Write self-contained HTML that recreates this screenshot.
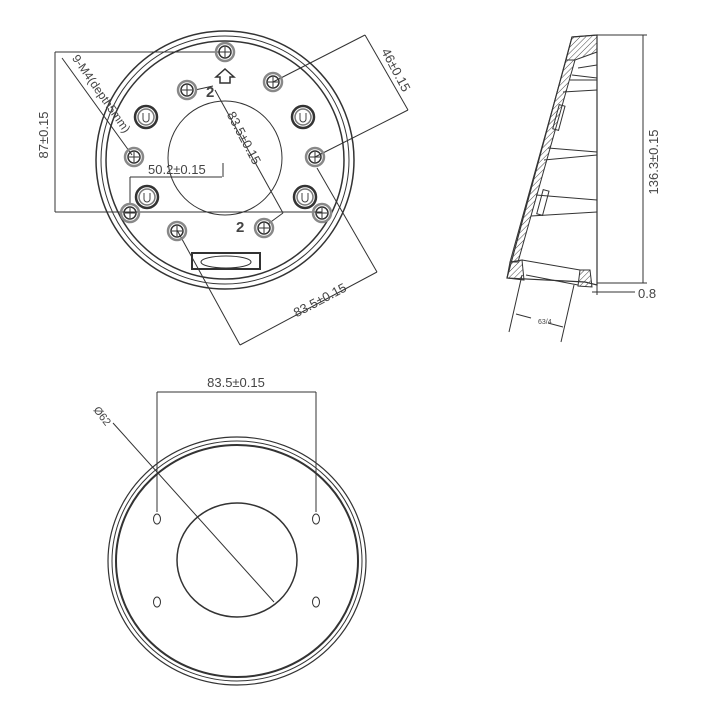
<!DOCTYPE html>
<html><head><style>html,body{margin:0;padding:0;background:#fff}svg{display:block}</style></head><body>
<svg width="704" height="704" viewBox="0 0 704 704" xmlns="http://www.w3.org/2000/svg" font-family="Liberation Sans, sans-serif">
<defs>
<pattern id="h" width="4" height="4" patternUnits="userSpaceOnUse" patternTransform="rotate(45)"><line x1="0" y1="0" x2="0" y2="4" stroke="#444" stroke-width="1"/></pattern>
<g id="sh"><circle r="9" fill="none" stroke="#888" stroke-width="2.5"/><circle r="6" fill="none" stroke="#333" stroke-width="1.5"/><line x1="-5" y1="0" x2="5" y2="0" stroke="#333"/><line x1="0" y1="-5" x2="0" y2="5" stroke="#333"/></g>
<g id="bs"><circle r="11" fill="none" stroke="#333" stroke-width="2.5"/><circle r="8" fill="none" stroke="#777" stroke-width="1.5"/><path d="M-3,-4 V2 A3,3 0 0 0 3,2 V-4" fill="none" stroke="#444"/></g>
</defs>
<g stroke="#333" fill="none" stroke-width="1">
<circle cx="225" cy="160" r="129" stroke-width="1.5"/>
<circle cx="225" cy="160" r="124"/>
<circle cx="225" cy="160" r="119" stroke-width="1.5"/>
<circle cx="225" cy="158" r="57"/>
<rect x="192" y="253" width="68" height="16" stroke-width="2"/>
<ellipse cx="226" cy="262" rx="25" ry="6"/>
<path d="M220,83 v-6 h-4 l9,-8 l9,8 h-4 v6 z" stroke-width="1.5"/>
<line x1="55" y1="52" x2="225" y2="52"/>
<line x1="55" y1="212" x2="322" y2="212"/>
<line x1="55" y1="52" x2="55" y2="212"/>
<line x1="62" y1="58" x2="132" y2="155"/>
<line x1="130" y1="177" x2="222" y2="177"/><line x1="130" y1="177" x2="130" y2="205"/><line x1="223" y1="163" x2="223" y2="177"/>
<line x1="195" y1="90" x2="213" y2="86"/><line x1="215" y1="90" x2="283" y2="213"/><line x1="268" y1="224" x2="283" y2="213"/>
<line x1="273" y1="82" x2="365" y2="35"/><line x1="365" y1="35" x2="408" y2="110"/><line x1="315" y1="157" x2="408" y2="110"/>
<line x1="177" y1="230" x2="240" y2="345"/><line x1="240" y1="345" x2="377" y2="272"/><line x1="317" y1="168" x2="377" y2="272"/>
<polygon points="572,37 597,35 597,285 585,282 507,278" stroke-width="1.2"/>
<polygon points="572,37 597,35 597,52 575,60 566,60" fill="url(#h)"/>
<polygon points="566,60 575,60 518,262 510,262" fill="url(#h)"/>
<polygon points="507,278 510,262 522,260 524,280" fill="url(#h)"/>
<polygon points="578,286 580,270 590,270 592,287" fill="url(#h)"/>
<line x1="522" y1="260" x2="580" y2="270"/><line x1="526" y1="275" x2="578" y2="285"/>
<line x1="578" y1="68" x2="597" y2="65"/><line x1="572" y1="75" x2="597" y2="78"/>
<line x1="570" y1="80" x2="597" y2="80"/><line x1="563" y1="92" x2="597" y2="90"/>
<line x1="548" y1="148" x2="597" y2="152"/><line x1="544" y1="160" x2="597" y2="155"/>
<line x1="536" y1="195" x2="597" y2="200"/><line x1="531" y1="216" x2="597" y2="212"/>
<rect x="556" y="105" width="6" height="25" transform="rotate(15 559 117)"/>
<rect x="540" y="190" width="6" height="25" transform="rotate(15 543 202)"/>
<line x1="597" y1="35" x2="647" y2="35"/><line x1="597" y1="283" x2="647" y2="283"/>
<line x1="643" y1="35" x2="643" y2="283"/>
<line x1="597" y1="285" x2="597" y2="295"/><line x1="592" y1="292" x2="635" y2="292"/>
<line x1="522" y1="275" x2="509" y2="332"/><line x1="574" y1="285" x2="561" y2="342"/>
<line x1="516" y1="314" x2="531" y2="318"/><line x1="548" y1="323" x2="563" y2="327"/>
<ellipse cx="237" cy="561" rx="129" ry="124" stroke-width="1.2"/>
<ellipse cx="237" cy="561" rx="125" ry="120"/>
<ellipse cx="237" cy="561" rx="121" ry="116" stroke-width="2"/>
<ellipse cx="237" cy="560" rx="60" ry="57" stroke-width="1.5"/>
<ellipse cx="157" cy="519" rx="3.5" ry="5"/><ellipse cx="316" cy="519" rx="3.5" ry="5"/>
<ellipse cx="157" cy="602" rx="3.5" ry="5"/><ellipse cx="316" cy="602" rx="3.5" ry="5"/>
<line x1="157" y1="392" x2="316" y2="392"/><line x1="157" y1="392" x2="157" y2="512"/><line x1="316" y1="392" x2="316" y2="512"/>
<line x1="113" y1="423" x2="274" y2="602"/>
</g>
<use href="#sh" x="225" y="52"/><use href="#sh" x="187" y="90"/><use href="#sh" x="273" y="82"/>
<use href="#sh" x="134" y="157"/><use href="#sh" x="315" y="157"/><use href="#sh" x="130" y="213"/>
<use href="#sh" x="322" y="213"/><use href="#sh" x="177" y="231"/><use href="#sh" x="264" y="228"/>
<use href="#bs" x="146" y="117"/><use href="#bs" x="303" y="117"/><use href="#bs" x="147" y="197"/><use href="#bs" x="305" y="197"/>
<g fill="#444" font-size="13">
<text x="48" y="135" transform="rotate(-90 48 135)" text-anchor="middle">87±0.15</text>
<text x="148" y="174">50.2±0.15</text>
<text x="206" y="97" font-weight="bold" font-size="15">2</text>
<text x="236" y="232" font-weight="bold" font-size="15">2</text>
<text x="240" y="140" transform="rotate(62 240 140)" text-anchor="middle">83.5±0.15</text>
<text x="392" y="72" transform="rotate(62 392 72)" text-anchor="middle">46±0.15</text>
<text x="322" y="304" transform="rotate(-28 322 304)" text-anchor="middle">83.5±0.15</text>
<text x="98" y="96" transform="rotate(55 98 96)" text-anchor="middle" font-size="12">9-M4(depth5mm)</text>
<text x="658" y="162" transform="rotate(-90 658 162)" text-anchor="middle">136.3±0.15</text>
<text x="638" y="298">0.8</text>
<text x="538" y="324" font-size="7">63/4</text>
<text x="236" y="387" text-anchor="middle">83.5±0.15</text>
<text x="93" y="410" transform="rotate(52 93 410)" font-size="11">Ø62</text>
</g>
</svg>
</body></html>
